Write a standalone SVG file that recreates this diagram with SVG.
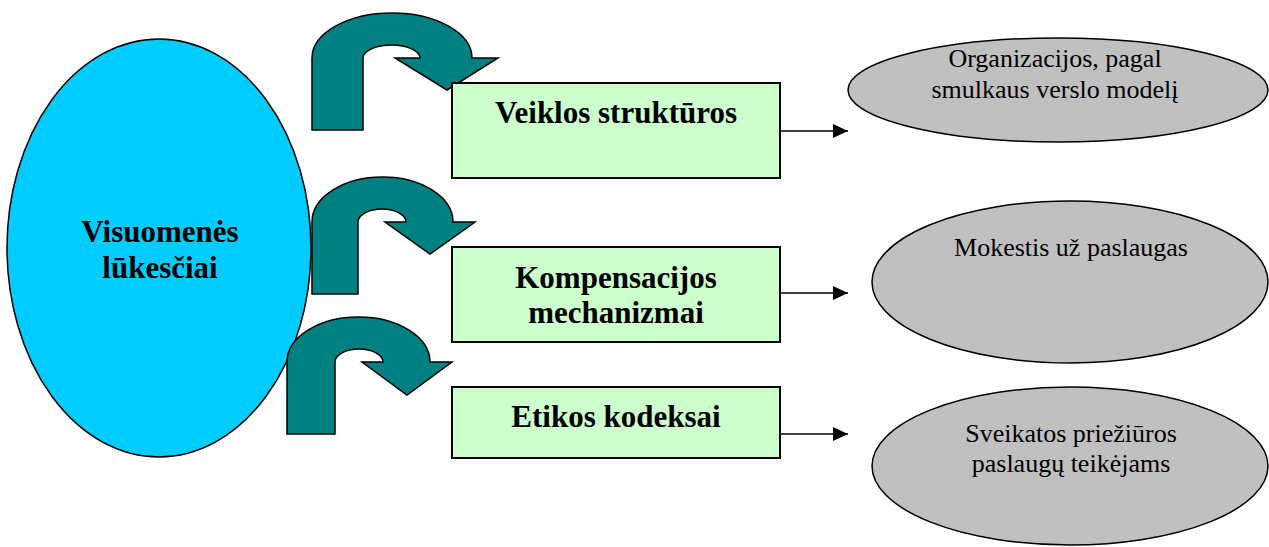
<svg xmlns="http://www.w3.org/2000/svg" width="1269" height="547" viewBox="0 0 1269 547">
<defs>
<style>
.big{fill:#00CCFF;stroke:#000;stroke-width:1.5}
.box{fill:#CCFFCC;stroke:#000;stroke-width:2}
.oval{fill:#C0C0C0;stroke:#000;stroke-width:1.5}
.turn{fill:#008080;stroke:#000;stroke-width:1.5;stroke-linejoin:miter}
.b{font-family:"Liberation Serif","Times New Roman",serif;font-weight:bold;font-size:31px;fill:#000;text-anchor:middle}
.r{font-family:"Liberation Serif","Times New Roman",serif;font-size:26px;fill:#000;text-anchor:middle}
.con{stroke:#000;stroke-width:1.5;fill:none}
</style>
<marker id="ah" markerUnits="userSpaceOnUse" markerWidth="16" markerHeight="16" viewBox="0 0 16 16" refX="15" refY="8" orient="auto">
<path d="M0,1 L15,8 L0,15 Z" fill="#000"/>
</marker>
</defs>
<g id="node-visuomenes">
<ellipse class="big" cx="159" cy="248" rx="152" ry="209"/>
<text class="b" x="160" y="242">Visuomenės</text>
<text class="b" x="160" y="278">lūkesčiai</text>
</g>
<g id="turn-arrows">
<path id="turn1" class="turn" d="M312,130 L312,58 A80,45 0 0 1 472,58 L498,58 L447,90 L395,58 L420,58 A28.5,13 0 0 0 363,58 L363,130 Z"/>
<path id="turn2" class="turn" d="M312,294 L312,222 A70.5,45 0 0 1 453,222 L475,222 L430,254 L385,222 L406,222 A24,13 0 0 0 358,222 L358,294 Z"/>
<path id="turn3" class="turn" d="M287,434 L287,362 A71.5,45 0 0 1 430,362 L452,362 L407,395 L362,362 L383,362 A24,13 0 0 0 335,362 L335,434 Z"/>
</g>
<g id="node-veiklos">
<rect class="box" x="452" y="83" width="328" height="95"/>
<text class="b" x="616" y="123">Veiklos struktūros</text>
</g>
<g id="node-kompensacijos">
<rect class="box" x="452" y="247" width="328" height="95"/>
<text class="b" x="616" y="288">Kompensacijos</text>
<text class="b" x="616" y="323">mechanizmai</text>
</g>
<g id="node-etikos">
<rect class="box" x="452" y="387" width="328" height="71"/>
<text class="b" x="616" y="427">Etikos kodeksai</text>
</g>
<g id="node-organizacijos">
<ellipse class="oval" cx="1058" cy="90" rx="210" ry="52"/>
<text class="r" x="1055" y="67">Organizacijos, pagal</text>
<text class="r" x="1055" y="98">smulkaus verslo modelį</text>
</g>
<g id="node-mokestis">
<ellipse class="oval" cx="1070" cy="282" rx="198" ry="81"/>
<text class="r" x="1071" y="256">Mokestis už paslaugas</text>
</g>
<g id="node-sveikatos">
<ellipse class="oval" cx="1070" cy="466" rx="198" ry="79"/>
<text class="r" x="1071" y="442">Sveikatos priežiūros</text>
<text class="r" x="1071" y="472">paslaugų teikėjams</text>
</g>
<g id="connectors">
<line class="con" x1="780" y1="131" x2="848" y2="131" marker-end="url(#ah)"/>
<line class="con" x1="780" y1="293" x2="848" y2="293" marker-end="url(#ah)"/>
<line class="con" x1="780" y1="434" x2="848" y2="434" marker-end="url(#ah)"/>
</g>
</svg>
